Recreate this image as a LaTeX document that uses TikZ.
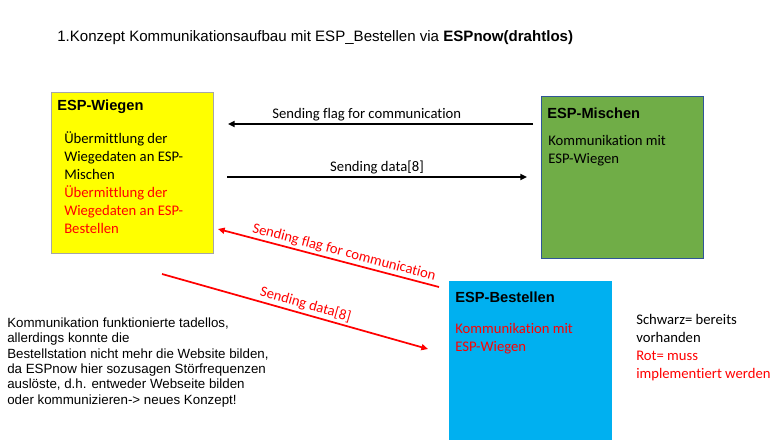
\documentclass[tikz,border=0pt]{standalone}
\usepackage{fontspec}
\setmainfont{Liberation Sans}
\newfontfamily\calibri[Ligatures={NoCommon,NoContextual}]{Carlito}
\usetikzlibrary{arrows.meta}

\definecolor{wiegengelb}{HTML}{FFFF00}
\definecolor{mischengruen}{HTML}{70AD47}
\definecolor{mischenrand}{HTML}{2F5597}
\definecolor{bestellenblau}{HTML}{00B0F0}
\definecolor{rot}{HTML}{FF0000}

\tikzset{
    espbox/.style={draw, line width=0.8pt, anchor=north west, inner sep=0pt},
    kopf/.style={font=\bfseries\fontsize{11}{13}\selectfont, anchor=base west, inner sep=0pt},
    inhalt/.style={font=\calibri\fontsize{11}{13.4}\selectfont, align=left, anchor=base west, inner sep=0pt},
    pfeil/.style={line width=1.3pt, -{Triangle[length=5pt,width=4.5pt]}},
    pfeiltext/.style={font=\calibri\fontsize{11}{13}\selectfont, inner sep=1.5pt}
}

\begin{document}
\begin{tikzpicture}[x=0.75pt, y=-0.75pt]

    \useasboundingbox (0,0) rectangle (781,439);

    % -------------------------------
    % Titel
    % -------------------------------
    \node[anchor=base west, inner sep=0pt, font=\fontsize{11.3}{13}\selectfont] (titel) at (57,41)
        {1.Konzept Kommunikationsaufbau mit ESP\_Bestellen via \textbf{ESPnow(drahtlos)}};

    % -------------------------------
    % ESP-Wiegen
    % -------------------------------
    \node[espbox, draw=gray!70, fill=wiegengelb, minimum width=162*0.75pt, minimum height=161*0.75pt] (wiegen) at (51,92) {};
    \node[kopf] (wiegenkopf) at (57,110) {ESP-Wiegen};
    % (Basislinie = letzte Zeile)
    \node[inhalt] (wiegentext) at (64,233) {%
        Übermittlung der\\
        Wiegedaten an ESP-\\
        Mischen\\
        \textcolor{rot}{Übermittlung der}\\
        \textcolor{rot}{Wiegedaten an ESP-}\\
        \textcolor{rot}{Bestellen}};

    % -------------------------------
    % ESP-Mischen
    % -------------------------------
    \node[espbox, draw=mischenrand, fill=mischengruen, minimum width=162*0.75pt, minimum height=162*0.75pt] (mischen) at (541,96) {};
    \node[kopf] (mischenkopf) at (547,118) {ESP-Mischen};
    \node[inhalt] (mischentext) at (548,163) {Kommunikation mit\\ESP-Wiegen};

    % -------------------------------
    % ESP-Bestellen
    % -------------------------------
    \node[espbox, draw=bestellenblau, fill=bestellenblau, minimum width=162*0.75pt, minimum height=160*0.75pt] (bestellen) at (449,281) {};
    \node[kopf] (bestellenkopf) at (455,302) {ESP-Bestellen};
    \node[inhalt, text=rot] (bestellentext) at (455,351) {Kommunikation mit\\ESP-Wiegen};

    % -------------------------------
    % Pfeile
    % -------------------------------
    \coordinate (flagA) at (533,124);
    \coordinate (flagB) at (228,124);
    \coordinate (dataA) at (227,177);
    \coordinate (dataB) at (527,177);
    \coordinate (rotflagA) at (439,287);
    \coordinate (rotflagB) at (218,229);
    \coordinate (rotdataA) at (162,274);
    \coordinate (rotdataB) at (428,349);

    \draw[pfeil] (flagA) -- node[pfeiltext, above, pos=0.545] (flagtext) {Sending flag for communication} (flagB);
    \draw[pfeil] (dataA) -- node[pfeiltext, above, pos=0.5] (datatext) {Sending data[8]} (dataB);
    \draw[pfeil, rot] (rotflagA) -- node[pfeiltext, sloped, above, pos=0.44] (rotflagtext) {Sending flag for communication} (rotflagB);
    \draw[pfeil, rot] (rotdataA) -- node[pfeiltext, sloped, above, pos=0.53] (rotdatatext) {Sending data[8]} (rotdataB);

    % -------------------------------
    % Anmerkungen
    % -------------------------------
    \node[anchor=base west, inner sep=0pt, align=left, font=\fontsize{10}{11.5}\selectfont] (anmerkung) at (7,404) {%
        Kommunikation funktionierte tadellos,\\
        allerdings konnte die\\
        Bestellstation nicht mehr die Website bilden,\\
        da ESPnow hier sozusagen Störfrequenzen\\
        auslöste, d.h. entweder Webseite bilden\\
        oder kommunizieren-> neues Konzept!};

    \node[inhalt] (legende) at (636,378) {%
        Schwarz= bereits\\
        vorhanden\\
        \textcolor{rot}{Rot= muss}\\
        \textcolor{rot}{implementiert werden}};

\end{tikzpicture}
\end{document}
